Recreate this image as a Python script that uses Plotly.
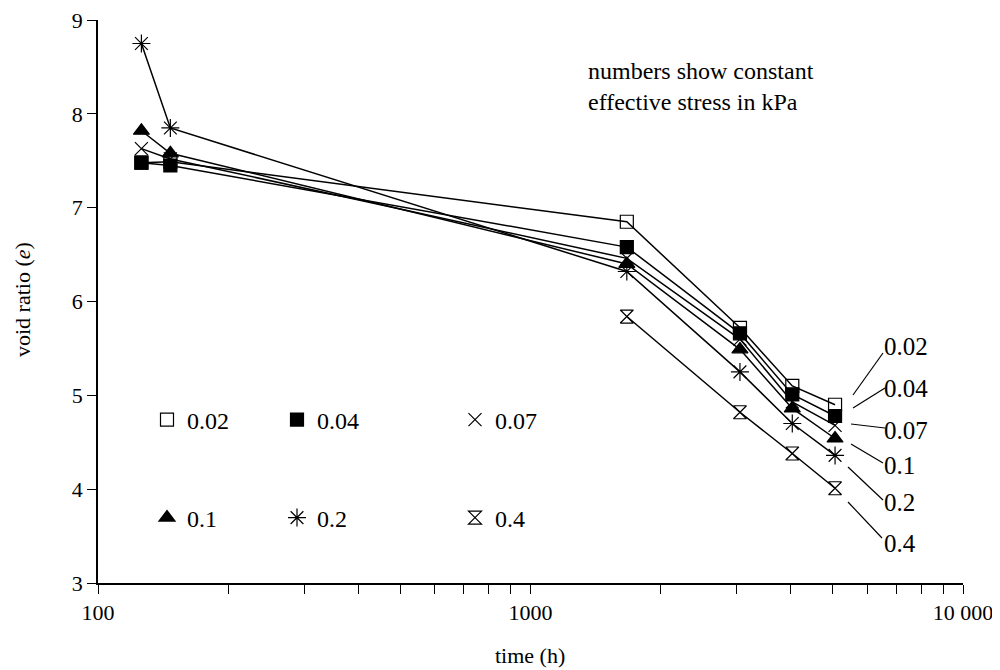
import plotly.graph_objects as go

# ---- data ----
time_h = [126, 147, 1670, 3050, 4030, 5060]
time_late = [1670, 3050, 4030, 5060]

e_002 = [7.48, 7.49, 6.85, 5.72, 5.10, 4.90]
e_004 = [7.48, 7.45, 6.58, 5.66, 5.01, 4.78]
e_007 = [7.63, 7.52, 6.46, 5.60, 4.93, 4.68]
e_01 = [7.82, 7.58, 6.40, 5.49, 4.86, 4.54]
e_02 = [8.75, 7.85, 6.32, 5.25, 4.70, 4.36]
e_04 = [5.84, 4.82, 4.38, 4.01]

stress_labels = ["0.02", "0.04", "0.07", "0.1", "0.2", "0.4"]
x_tickvals = [100, 1000, 10000]
x_ticktext = ["100", "1000", "10 000"]
y_tickvals = [3, 4, 5, 6, 7, 8, 9]

FONT = "Liberation Serif, Times New Roman, DejaVu Serif, serif"
FS_TICK = 22
FS_NOTE = 24
FS_LEG = 24
FS_RIGHT = 25
BLACK = "black"

series = [
    (time_h, e_002, "square-open", 13),
    (time_h, e_004, "square", 13),
    (time_h, e_007, "x-thin-open", 13),
    (time_h, e_01, "triangle-up", 14),
    (time_h, e_02, "asterisk-open", 15),
    (time_late, e_04, "hourglass-open", 13),
]

fig = go.Figure()

for (xs, ys, sym, sz), lab in zip(series, stress_labels):
    fig.add_trace(go.Scatter(
        x=xs, y=ys, mode="lines+markers", showlegend=False,
        line=dict(color=BLACK, width=1.5),
        marker=dict(symbol=sym, size=sz, color=BLACK,
                    line=dict(color=BLACK, width=1.2)),
    ))

# page has an 8px body margin; figure is placed at (8, 8)
OFF = 8
PL, PR, PT, PB = 98, 963, 20, 583          # plot box in page pixels
FIG_W, FIG_H = 1000 - OFF, 670 - OFF
L, T = PL - OFF, PT - OFF
R, B = FIG_W - (PR - OFF), FIG_H - (PB - OFF)
W, H = PR - PL, PB - PT


def px(xp):
    return (xp - PL) / W


def py(yp):
    return (PB - yp) / H


legend_pos = [(147, 420), (277, 420), (455, 420), (147, 518), (277, 518), (455, 518)]
layout_legends = {}
for i, ((xs, ys, sym, sz), lab, (lx, ly)) in enumerate(zip(series, stress_labels, legend_pos)):
    name = "legend" if i == 0 else f"legend{i + 1}"
    fig.add_trace(go.Scatter(
        x=[None], y=[None], mode="markers", name=lab, legend=name,
        marker=dict(symbol=sym, size=sz, color=BLACK,
                    line=dict(color=BLACK, width=1.2)),
    ))
    layout_legends[name] = dict(
        x=px(lx), y=py(ly), xanchor="left", yanchor="middle",
        bgcolor="rgba(0,0,0,0)", font=dict(family=FONT, size=FS_LEG, color=BLACK),
        itemwidth=30, tracegroupgap=0,
    )

# right-hand labels with leader lines
leaders = [
    ((853, 395), (883, 353), 347),
    ((853, 408), (885, 388), 388),
    ((851, 424), (885, 428), 430),
    ((851, 444), (883, 463), 465),
    ((848, 467), (883, 500), 502),
    ((848, 502), (882, 538), 543),
]
shapes = []
annotations = []
for lab, ((x0, y0), (x1, y1), ty) in zip(stress_labels, leaders):
    shapes.append(dict(type="line", xref="paper", yref="paper",
                       x0=px(x0), y0=py(y0), x1=px(x1), y1=py(y1),
                       line=dict(color=BLACK, width=1.2)))
    annotations.append(dict(text=lab, xref="paper", yref="paper",
                            x=px(882), y=py(ty), xanchor="left", yanchor="middle",
                            showarrow=False,
                            font=dict(family=FONT, size=FS_RIGHT, color=BLACK)))

annotations.append(dict(text="numbers show constant<br>effective stress in kPa",
                        xref="paper", yref="paper", x=px(586), y=py(86),
                        xanchor="left", yanchor="middle", align="left",
                        showarrow=False,
                        font=dict(family=FONT, size=FS_NOTE, color=BLACK)))

# axis titles
annotations.append(dict(text="time (h)", xref="paper", yref="paper",
                        x=px(530), y=py(655), xanchor="center", yanchor="middle",
                        showarrow=False, font=dict(family=FONT, size=FS_TICK, color=BLACK)))
annotations.append(dict(text="void ratio (<i>e</i>)", xref="paper", yref="paper",
                        x=px(22), y=py(300), xanchor="center", yanchor="middle",
                        textangle=-90, showarrow=False,
                        font=dict(family=FONT, size=FS_TICK, color=BLACK)))

fig.update_layout(
    width=FIG_W, height=FIG_H,
    margin=dict(l=L, r=R, t=T, b=B, autoexpand=False),
    paper_bgcolor="white", plot_bgcolor="white",
    font=dict(family=FONT, size=FS_TICK, color=BLACK),
    shapes=shapes, annotations=annotations,
    **layout_legends,
)

fig.update_xaxes(
    type="log", range=[2, 4], automargin=False,
    tickvals=x_tickvals, ticktext=x_ticktext,
    ticks="outside", ticklen=9, tickwidth=1.2, tickcolor=BLACK,
    showline=True, linecolor=BLACK, linewidth=1.5,
    showgrid=False, zeroline=False,
    minor=dict(ticks="outside", ticklen=9, tickcolor=BLACK, tickwidth=1, showgrid=False,
               tickvals=[200, 300, 400, 500, 600, 700, 800, 900,
                         2000, 3000, 4000, 5000, 6000, 7000, 8000, 9000]),
    tickfont=dict(family=FONT, size=FS_TICK),
)
fig.update_yaxes(
    range=[3, 9.0005], tickvals=y_tickvals, automargin=False,
    ticks="outside", ticklen=9, tickwidth=1.2, tickcolor=BLACK,
    showline=True, linecolor=BLACK, linewidth=1.5,
    showgrid=False, zeroline=False,
    ticklabeloverflow="allow",
    tickfont=dict(family=FONT, size=FS_TICK),
)

fig.write_html("out.html")
